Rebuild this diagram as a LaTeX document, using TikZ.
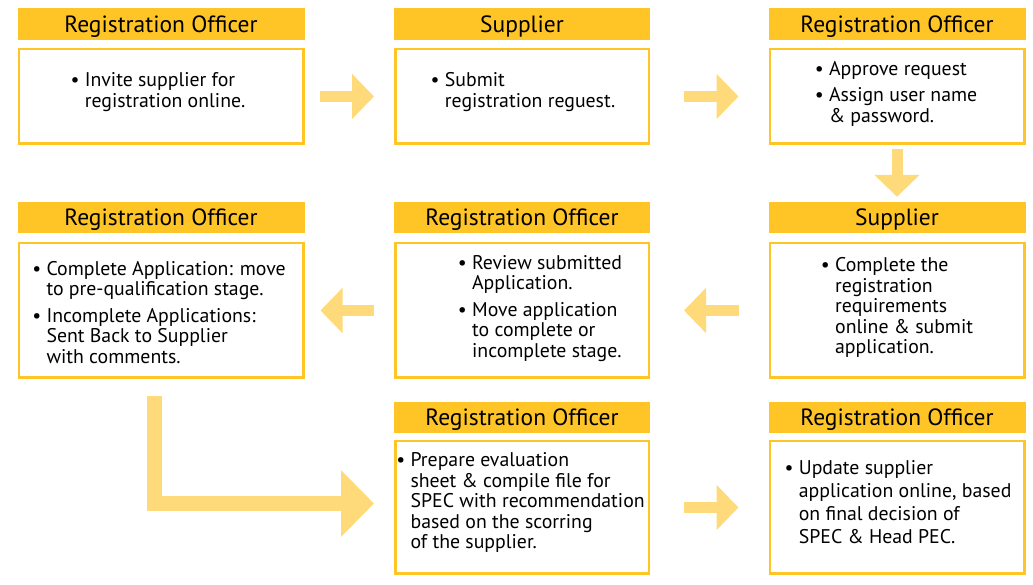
\documentclass[tikz,border=0pt]{standalone}
\usepackage{fontspec}
\setmainfont{PT Sans}
\usepackage{tikz}
\usetikzlibrary{positioning,arrows.meta,calc}
\definecolor{gold}{HTML}{FFC425}
\definecolor{palegold}{HTML}{FFDA7A}
\newcommand{\bul}{\textbullet\ }
\newcommand{\ind}{\hphantom{\textbullet\ }}

\begin{document}
\begin{tikzpicture}[x=1pt, y=1pt,
        hdr/.style={fill=gold, minimum height=31pt, inner sep=0pt, text depth=0pt,
                    font=\fontsize{23.5}{25}\selectfont},
        box/.style={draw=gold, line width=2.5pt, fill=white, inner sep=0pt},
        txt/.style={align=left, inner sep=0pt, font=\fontsize{19.8}{20.5}\selectfont},
        flow/.style={draw=palegold, line width=11pt,
                     -{Triangle[length=22pt, width=44pt]}},
      ]
        \useasboundingbox (0,0) rectangle (1033,585);

        % Row 1
        \node[hdr, minimum width=287pt, minimum height=32pt] (h1) at (161,561) {Registration Officer};
        \node[box, minimum width=284.5pt, minimum height=94.5pt] (invite) at (161,488.5) {};
        \node[txt] at ([shift={(-3,4.5)}]invite.center) {\bul Invite supplier for\\ \ind registration online.};

        \node[hdr, minimum width=256pt, minimum height=32pt] (h2) at (522,561) {Supplier};
        \node[box, minimum width=253.5pt, minimum height=94.5pt] (submit) at (522,488.5) {};
        \node[txt] at ([shift={(1,4.5)}]submit.center) {\bul Submit\\ \ind registration reguest.};

        \node[hdr, minimum width=257pt, minimum height=32pt] (h3) at (897,561) {Registration Officer};
        \node[box, minimum width=254.5pt, minimum height=94.5pt] (approve) at (897,488.5) {};
        \node[txt] at ([shift={(-1,3)}]approve.center) {\bul Approve request\\[6pt] \bul Assign user name\\ \ind \& password.};

        % Row 2
        \node[hdr, minimum width=257pt] (h4) at (897,367.5) {Supplier};
        \node[box, minimum width=254.5pt, minimum height=134.5pt] (complete) at (897,274.5) {};
        \node[txt] at ([shift={(0,3)}]complete.center) {\bul Complete the\\ \ind registration\\ \ind requirements\\ \ind online \& submit\\ \ind application.};

        \node[hdr, minimum width=256pt] (h5) at (522,367.5) {Registration Officer};
        \node[box, minimum width=253.5pt, minimum height=134.5pt] (review) at (522,274.5) {};
        \node[txt] at ([shift={(18,2)}]review.center) {\bul Review submitted\\ \ind Application.\\[6pt] \bul Move application\\ \ind to complete or\\ \ind incomplete stage.};

        \node[hdr, minimum width=287pt] (h6) at (161,367.5) {Registration Officer};
        \node[box, minimum width=284.5pt, minimum height=134.5pt] (decide) at (161,274.5) {};
        \node[txt] at ([shift={(-2,-2)}]decide.center) {\bul Complete Application: move\\ \ind to pre-qualification stage.\\[6pt] \bul Incomplete Applications:\\ \ind Sent Back to Supplier\\ \ind with comments.};

        % Row 3
        \node[hdr, minimum width=256pt] (h7) at (522,167.5) {Registration Officer};
        \node[box, minimum width=253.5pt, minimum height=132.5pt] (prepare) at (522,77.5) {};
        \node[txt] at ([shift={(-1.5,5)}]prepare.center) {\bul Prepare evaluation\\ \ind sheet \& compile file for\\ \ind SPEC with recommendation\\ \ind based on the scorring\\ \ind of the supplier.};

        \node[hdr, minimum width=257pt] (h8) at (897,167.5) {Registration Officer};
        \node[box, minimum width=254.5pt, minimum height=132.5pt] (update) at (897,77.5) {};
        \node[txt, font=\fontsize{19.8}{23}\selectfont] at ([shift={(1,5)}]update.center) {\bul Update supplier\\ \ind application online, based\\ \ind on final decision of\\ \ind SPEC \& Head PEC.};

        % Arrows
        \draw[flow, shorten <=15pt, shorten >=20pt] (invite.east) -- (submit.west);
        \draw[flow, shorten <=34pt, shorten >=30pt] (submit.east) -- (approve.west);
        \draw[flow, shorten <=4pt, shorten >=5pt] (approve.south) -- (h4.north);
        \draw[flow, shorten <=30pt, shorten >=34pt] (complete.west) -- (review.east);
        \draw[flow, shorten <=20pt, shorten >=16pt] (review.west) -- (decide.east);
        \draw[flow, line width=15pt, -{Triangle[length=33pt, width=65pt]},
              shorten <=17pt, shorten >=20pt]
              ([xshift=-6.5pt]decide.south) |- ([yshift=4pt]prepare.west);
        \draw[flow, shorten <=34pt, shorten >=30pt] (prepare.east) -- (update.west);
      \end{tikzpicture}
\end{document}
